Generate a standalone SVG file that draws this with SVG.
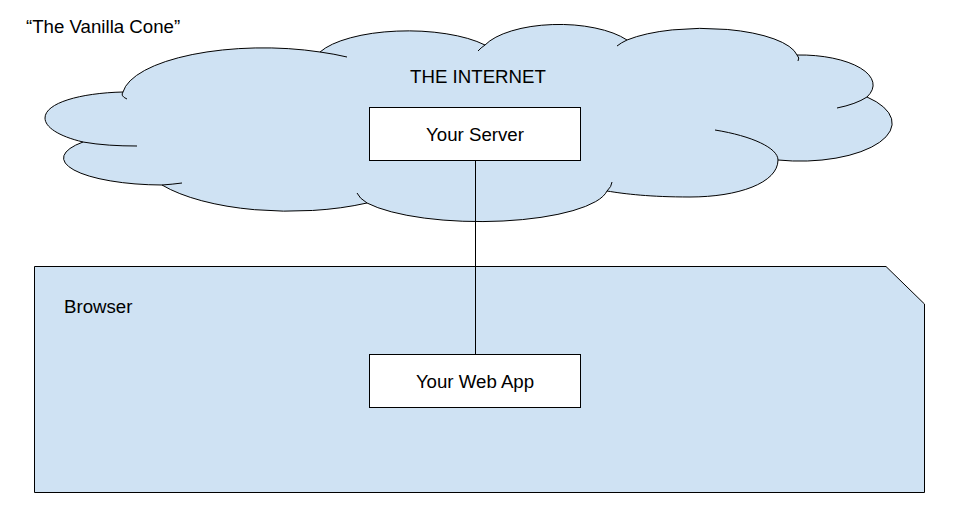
<svg xmlns="http://www.w3.org/2000/svg" width="959" height="518" viewBox="0 0 959 518">
  <style>
    .shape { fill: #cfe2f3; stroke: #000; stroke-width: 1; }
    .inner { fill: none; stroke: #000; stroke-width: 1; }
    .box { fill: #fff; stroke: #000; stroke-width: 1; }
    .lbl { font-family: "Liberation Sans", Arial, sans-serif; font-size: 18.67px; fill: #000; }
    .mid { text-anchor: middle; }
    .conn { stroke: #000; stroke-width: 1; fill: none; }
  </style>
  <rect x="0" y="0" width="959" height="518" fill="#fff"/>

  <text class="lbl" x="26" y="33">“The Vanilla Cone”</text>

  <g id="internet">
    <path class="shape" d="M 123,92 A 141,49 0 0,1 320,52 A 95,34 0 0,1 485,45 A 80,33 0 0,1 627,40 A 96,31 0 0,1 797,55 A 73,30 0 0,1 867,97 A 92,38 0 0,1 778,160 C 778,183 738,197 690,197 C 650,197 625,194 607,191 A 128,35 0 0,1 367,203 A 150,56 0 0,1 162,185 A 100,27 0 0,1 83,142 C 58,136 45,127 45,118 C 45,103 80,93 123,92 Z"/>
    <path class="inner" d="M 123,92 Q 120,96 127,99"/>
    <path class="inner" d="M 320,52 A 141,49 0 0,1 347,57"/>
    <path class="inner" d="M 485,45 A 80,33 0 0,0 478,51"/>
    <path class="inner" d="M 627,40 A 96,31 0 0,0 617,46"/>
    <path class="inner" d="M 797,55 Q 800,58 798,61"/>
    <path class="inner" d="M 867,97 A 73,30 0 0,1 837,108"/>
    <path class="inner" d="M 778,160 C 778,148 752,136 715,130"/>
    <path class="inner" d="M 607,191 A 128,35 0 0,0 612,182"/>
    <path class="inner" d="M 367,203 A 128,35 0 0,1 357,193"/>
    <path class="inner" d="M 162,185 A 100,27 0 0,0 182,183"/>
    <path class="inner" d="M 83,142 C 100,145 118,146 137,146"/>
    <text class="lbl mid" x="478" y="83">THE INTERNET</text>
  </g>

  <g id="browser">
    <polygon class="shape" points="34.5,266.5 886,266.5 924.5,304 924.5,492.5 34.5,492.5"/>
    <text class="lbl" x="64" y="313">Browser</text>
  </g>

  <g id="connectors">
    <line class="conn" x1="475.5" y1="160" x2="475.5" y2="354"/>
  </g>

  <g id="server">
    <rect class="box" x="369.5" y="107.5" width="211" height="53"/>
    <text class="lbl mid" x="475" y="141">Your Server</text>
  </g>

  <g id="webapp">
    <rect class="box" x="369.5" y="354.5" width="211" height="53"/>
    <text class="lbl mid" x="475" y="388">Your Web App</text>
  </g>
</svg>
